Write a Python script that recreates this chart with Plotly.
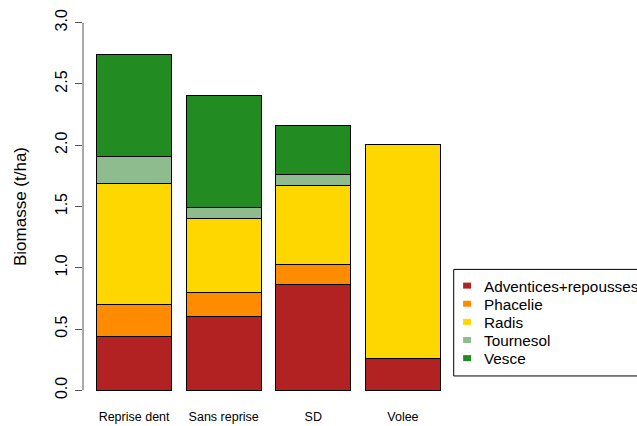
import plotly.graph_objects as go

categories = ["Reprise dent", "Sans reprise", "SD", "Volee"]
adventices = [0.44, 0.60, 0.86, 0.26]
phacelie = [0.26, 0.20, 0.17, 0.0]
radis = [0.99, 0.60, 0.64, 1.75]
tournesol = [0.22, 0.09, 0.09, 0.0]
vesce = [0.83, 0.92, 0.40, 0.0]

series_names = ["Adventices+repousses", "Phacelie", "Radis", "Tournesol", "Vesce"]
series_values = [adventices, phacelie, radis, tournesol, vesce]
colors = ["#B22222", "#FF8C00", "#FFD700", "#8FBC8F", "#228B22"]
y_ticks = [0.0, 0.5, 1.0, 1.5, 2.0, 2.5, 3.0]
y_ticktext = ["0.0", "0.5", "1.0", "1.5", "2.0", "2.5", "3.0"]

W, H = 637, 426
ml, mr, mt, mb = 83, 183.4, 8.3, 21.3
PW, PH = W - ml - mr, H - mt - mb
FONT = "Liberation Sans, Arial, sans-serif"


def px_x(px):
    return (px - ml) / PW


def px_y(py):
    return (H - mb - py) / PH


fig = go.Figure()
for name, vals, col in zip(series_names, series_values, colors):
    fig.add_trace(go.Bar(
        x=categories, y=vals, name=name, showlegend=False,
        marker=dict(color=col, line=dict(color="black", width=1)),
    ))

fig.update_layout(
    width=W, height=H,
    margin=dict(l=ml, r=mr, t=mt, b=mb, autoexpand=False),
    barmode="stack", bargap=1 - 1 / 1.2,
    plot_bgcolor="white", paper_bgcolor="white",
    font=dict(family=FONT, color="black", size=13),
    xaxis=dict(range=[-0.57, 3.57], showline=False, showgrid=False, zeroline=False,
               ticks="", tickfont=dict(size=12.5), ticklabelstandoff=2),
    yaxis=dict(range=[-0.12, 3.12], tickvals=y_ticks, ticktext=y_ticktext,
               showgrid=False, zeroline=False, showline=False,
               ticks="outside", ticklen=7, tickcolor="#555", tickwidth=1,
               tickangle=-90, tickfont=dict(size=16), ticklabelstandoff=2,
               title=dict(text="Biomasse (t/ha)", font=dict(size=17), standoff=21)),
)
fig.add_shape(type="line", xref="paper", yref="y", x0=0, x1=0, y0=0, y1=3,
              line=dict(color="#555", width=1))

# legend box (drawn like R's legend(), partly outside the figure on the right)
fig.add_shape(type="rect", xref="paper", yref="paper",
              x0=px_x(453.3), x1=px_x(700), y0=px_y(375.7), y1=px_y(269.3),
              line=dict(color="black", width=1), fillcolor="white", layer="above")
row_y0, row_step = 285.5, 18.1
for i, (name, col) in enumerate(zip(series_names, colors)):
    cy = row_y0 + i * row_step
    fig.add_shape(type="rect", xref="paper", yref="paper",
                  x0=px_x(462.7), x1=px_x(470.7), y0=px_y(cy + 3), y1=px_y(cy - 3),
                  line=dict(width=0), fillcolor=col, layer="above")
    fig.add_annotation(xref="paper", yref="paper", x=px_x(481.5), y=px_y(cy + 0.5),
                       text=name, showarrow=False, xanchor="left", yanchor="middle",
                       font=dict(family=FONT, size=15.3, color="black"))

fig.write_html("out.html", config={"displayModeBar": False},
               post_script="document.body.style.margin='0';document.body.style.overflow='hidden';")
